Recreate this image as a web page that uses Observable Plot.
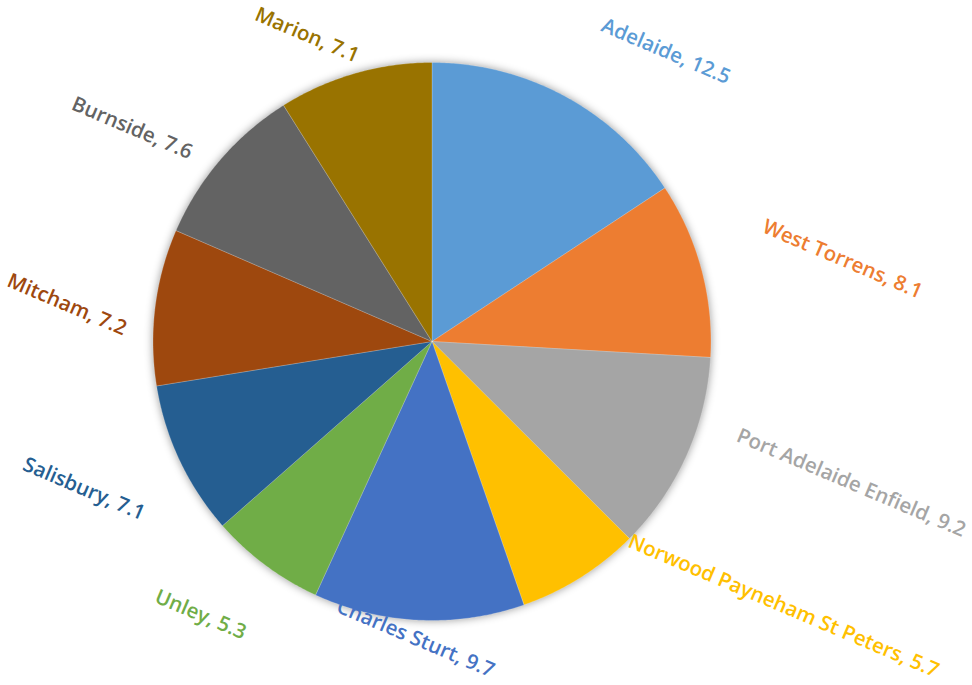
<!DOCTYPE html>
<html>
<head>
<meta charset="utf-8">
<script src="https://cdn.jsdelivr.net/npm/d3@7"></script>
<script src="https://cdn.jsdelivr.net/npm/@observablehq/plot@0.6"></script>
<style>
  html, body { margin: 0; padding: 0; background: #ffffff; }
  #chart { width: 972px; height: 685px; }
</style>
</head>
<body>
<div id="chart"></div>
<script>
// ---- data ----
const councils = ["Adelaide", "West Torrens", "Port Adelaide Enfield", "Norwood Payneham St Peters",
                  "Charles Sturt", "Unley", "Salisbury", "Mitcham", "Burnside", "Marion"];
const shares = [12.5, 8.1, 9.2, 5.7, 9.7, 5.3, 7.1, 7.2, 7.6, 7.1];
const palette = ["#5B9BD5", "#ED7D31", "#A5A5A5", "#FFC000", "#4472C4",
                 "#70AD47", "#255E91", "#9E480E", "#636363", "#997300"];

// ---- layout ----
const W = 972, H = 685;
const CX = 431.5, CY = 341, R = 279;          // pie centre / radius in px
const FS = 20.5, FW = 600, FF = "'Open Sans', 'Noto Sans', sans-serif";
const ROT = 23;                                // label rotation (deg)
const GAP = 46;                                // label distance beyond the rim
const ALONG = 12;                              // shift of labels along their baseline

const table = councils.map((name, i) => ({name, value: shares[i]}));
const arcs = d3.pie().sort(null).value(d => d.value)(table);

// slice outlines in units of the radius (y up)
const slicePts = [];
arcs.forEach(p => {
  const name = p.data.name;
  slicePts.push({name, x: 0, y: 0});
  const n = Math.max(2, Math.ceil((p.endAngle - p.startAngle) / (Math.PI / 360)));
  for (let k = 0; k <= n; k++) {
    const a = p.startAngle + (p.endAngle - p.startAngle) * k / n;
    slicePts.push({name, x: Math.sin(a), y: Math.cos(a)});
  }
  slicePts.push({name, x: 0, y: 0});
});

// label positions (outside end, rotated text kept inside the chart area)
const ctx = document.createElement("canvas").getContext("2d");
ctx.font = `${FW} ${FS}px ${FF}`;
const ra = ROT * Math.PI / 180, ca = Math.cos(ra), sa = Math.sin(ra);
const labels = arcs.map(p => {
  const text = `${p.data.name}, ${p.data.value}`;
  const th = (p.startAngle + p.endAngle) / 2;
  const L = ctx.measureText(text).width, h0 = FS * 0.95;
  const s = Math.max(-1, Math.min(1, 3 * Math.sin(th)));
  const r = R + GAP;
  let px = CX + r * Math.sin(th) + (L / 2) * s + ALONG * ca;
  let py = CY - r * Math.cos(th) - (h0 / 2) * Math.cos(th) + ALONG * sa;
  const bw = L * ca + h0 * sa, bh = L * sa + h0 * ca;
  px = Math.min(Math.max(px, 4 + bw / 2), W - 4 - bw / 2);
  py = Math.min(Math.max(py, 4 + bh / 2), H - 5 - bh / 2);
  return {name: p.data.name, text, x: (px - CX) / R, y: (CY - py) / R};
});

const chart = Plot.plot({
  width: W,
  height: H,
  margin: 0,
  x: {domain: [-CX / R, (W - CX) / R], axis: null},
  y: {domain: [-(H - CY) / R, CY / R], axis: null},
  color: {domain: councils, range: palette},
  style: {fontFamily: FF, background: "#ffffff"},
  marks: [
    Plot.line(slicePts, {x: "x", y: "y", z: "name", fill: "name", stroke: "#ffffff",
                         strokeWidth: 0.6, strokeOpacity: 0.35, curve: "linear"}),
    Plot.text(labels, {x: "x", y: "y", text: "text", fill: "name", rotate: ROT,
                       fontSize: FS, fontWeight: FW, fontFamily: FF,
                       textAnchor: "middle", lineAnchor: "middle"})
  ]
});
document.getElementById("chart").appendChild(chart);
d3.select(chart).select('g[aria-label="line"]')
  .style("filter", "drop-shadow(0px 0px 4px rgba(0,0,0,0.4))");
</script>
</body>
</html>
